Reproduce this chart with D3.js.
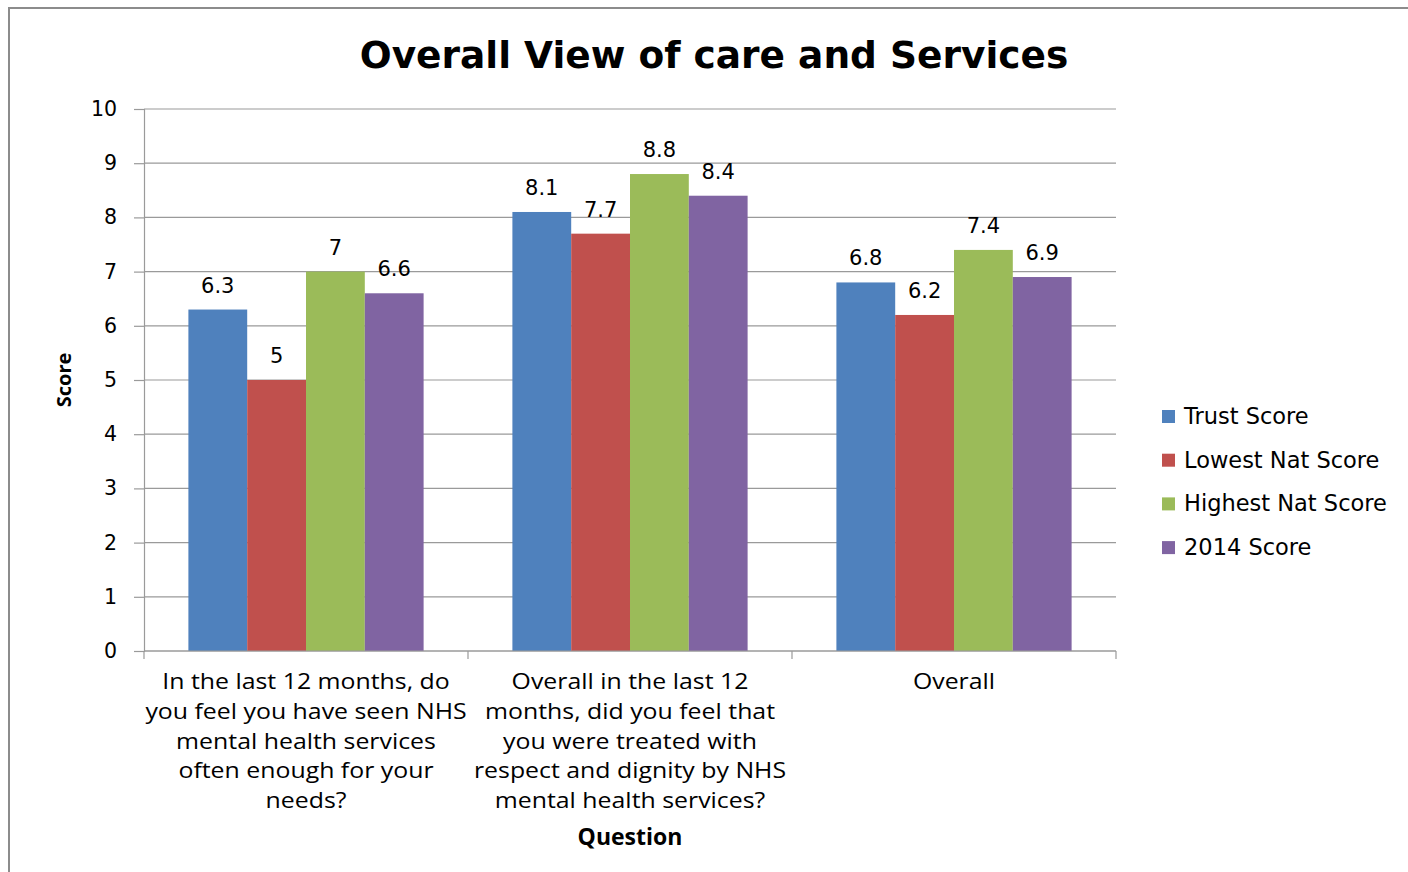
<!DOCTYPE html>
<html><head><meta charset="utf-8">
<script src="https://cdn.jsdelivr.net/npm/d3@7"></script>
<style>body{margin:0;background:#fff}svg{display:block}</style>
</head><body>
<svg id="c" width="1408" height="872"></svg>
<script>
const categories = [
  ["In the last 12 months, do","you feel you have seen NHS","mental health services","often enough for your","needs?"],
  ["Overall in the last 12","months, did you feel that","you were treated with","respect and dignity by NHS","mental health services?"],
  ["Overall"]
];
const seriesNames = ["Trust Score","Lowest Nat Score","Highest Nat Score","2014 Score"];
const trustScore   = [6.3, 8.1, 6.8];
const lowestNat    = [5, 7.7, 6.2];
const highestNat   = [7, 8.8, 7.4];
const score2014    = [6.6, 8.4, 6.9];
const colors = ["#4F81BD","#C0504D","#9BBB59","#8064A2"];
const yTicks = [0,1,2,3,4,5,6,7,8,9,10];

const series = [trustScore, lowestNat, highestNat, score2014];
const svg = d3.select("#c");

// outer frame
svg.append("rect").attr("x",9).attr("y",8).attr("width",1420).attr("height",900)
  .attr("fill","none").attr("stroke","#8c8c8c").attr("stroke-width",2);

const L=144, R=1116, T=109, B=651;
const y = d3.scaleLinear().domain([0,10]).range([B,T]);
const x0 = d3.scaleBand().domain(d3.range(categories.length)).range([L,R]).paddingInner(0).paddingOuter(0);
const x1 = d3.scaleBand().domain(d3.range(series.length)).range([0,x0.bandwidth()]).paddingOuter(0.755).paddingInner(0);

// gridlines
svg.append("g").selectAll("line").data(yTicks).join("line")
  .attr("x1",L).attr("x2",R).attr("y1",d=>y(d)).attr("y2",d=>y(d))
  .attr("stroke","#9a9a9a").attr("stroke-width",1.2);

// y axis
const ya = svg.append("g").attr("transform",`translate(${L},0)`)
  .call(d3.axisLeft(y).tickValues(yTicks).tickSize(10).tickPadding(17));
ya.select(".domain").attr("stroke","#9a9a9a").attr("stroke-width",1.2);
ya.selectAll(".tick line").attr("stroke","#9a9a9a").attr("stroke-width",1.2);
ya.selectAll("text").attr("font-family","DejaVu Sans").attr("font-size",20.5).attr("fill","#000");

// bars
const g = svg.append("g");
series.forEach((s,si)=>{
  g.selectAll(null).data(s).join("rect")
    .attr("x",(d,i)=>x0(i)+x1(si)).attr("width",x1.bandwidth())
    .attr("y",d=>y(d)).attr("height",d=>B-y(d)).attr("fill",colors[si]);
  g.selectAll(null).data(s).join("text")
    .attr("x",(d,i)=>x0(i)+x1(si)+x1.bandwidth()/2).attr("y",d=>y(d)-17)
    .attr("text-anchor","middle").attr("font-family","DejaVu Sans").attr("font-size",21)
    .text(d=>d);
});

// x axis
const xa = svg.append("g").attr("transform",`translate(0,${B})`);
xa.append("line").attr("x1",L).attr("x2",R).attr("stroke","#9a9a9a").attr("stroke-width",1.2);
xa.selectAll(null).data(d3.range(categories.length+1)).join("line")
  .attr("x1",i=>L+i*x0.step()).attr("x2",i=>L+i*x0.step()).attr("y1",0).attr("y2",8)
  .attr("stroke","#9a9a9a").attr("stroke-width",1.2);
categories.forEach((lines,i)=>{
  const t = xa.append("g").attr("transform",`translate(${x0(i)+x0.bandwidth()/2},0) scale(1.13,1)`)
    .append("text").attr("text-anchor","middle").attr("font-family","Open Sans").attr("font-size",22).attr("fill","#000");
  lines.forEach((ln,k)=>t.append("tspan").attr("x",0).attr("y",38.5+k*29.6).text(ln));
});

// titles
svg.append("text").attr("x",714).attr("y",68).attr("text-anchor","middle")
  .attr("font-family","DejaVu Sans").attr("font-weight","bold").attr("font-size",37.5).text("Overall View of care and Services");
svg.append("text").attr("transform","translate(71,380) rotate(-90)").attr("text-anchor","middle")
  .attr("font-family","Open Sans").attr("font-weight","bold").attr("font-size",20).text("Score");
svg.append("text").attr("x",630).attr("y",845).attr("text-anchor","middle")
  .attr("font-family","Open Sans").attr("font-weight","bold").attr("font-size",23).text("Question");

// legend
const leg = svg.append("g");
seriesNames.forEach((n,i)=>{
  const yy = 416 + i*43.7;
  leg.append("rect").attr("x",1162).attr("y",yy-6).attr("width",13).attr("height",13).attr("fill",colors[i]);
  leg.append("text").attr("x",1184).attr("y",yy+8).attr("font-family","DejaVu Sans").attr("font-size",22.5).text(n);
});
</script>
</body></html>
